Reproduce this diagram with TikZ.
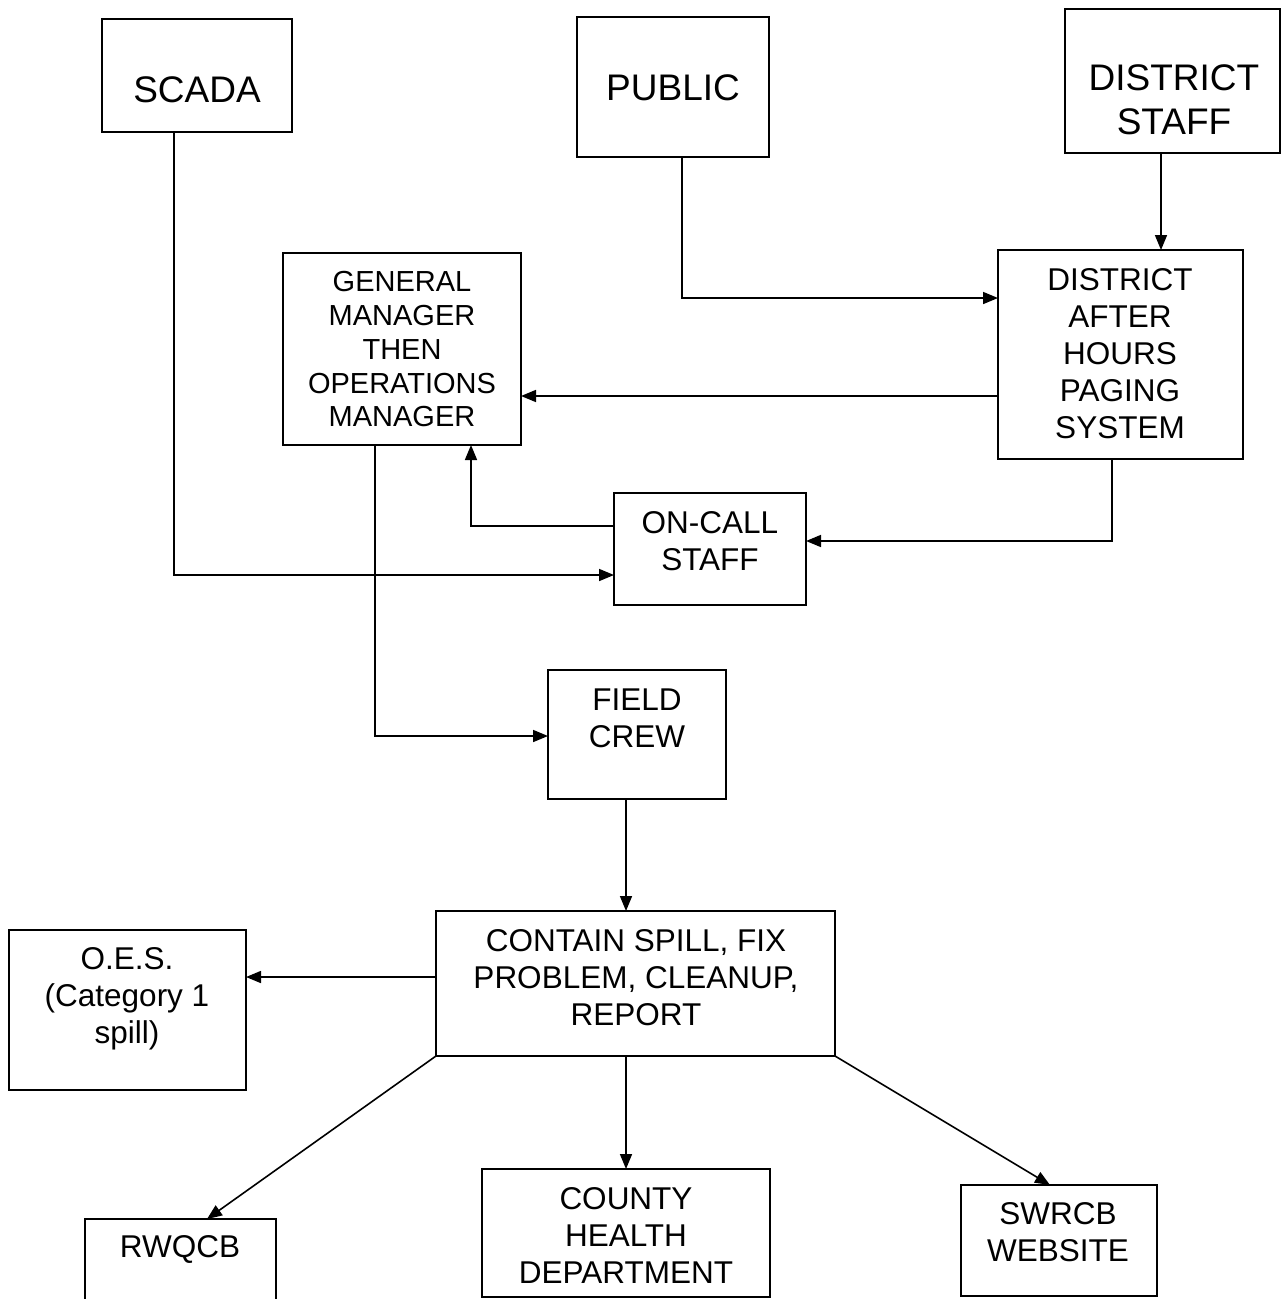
\documentclass[tikz,border=0pt]{standalone}
\usepackage{fontspec}
\setmainfont{Liberation Sans}
\usetikzlibrary{arrows.meta}
\tikzset{
  box/.style={draw, line width=1.8pt, rectangle, inner sep=0pt, outer sep=0pt},
  arr/.style={line width=1.6pt, -{Triangle[length=15pt,width=12pt]}},
  ln/.style={line width=1.6pt},
  txt/.style={align=center, inner sep=0pt, font=\fontsize{31.5}{37}\selectfont},
  txtbig/.style={align=center, inner sep=0pt, font=\fontsize{37}{44}\selectfont},
  txtgm/.style={align=center, inner sep=0pt, font=\fontsize{29}{33.75}\selectfont}
}
\begin{document}
\begin{tikzpicture}[x=1pt,y=-1pt]
\useasboundingbox[fill=white] (0,0) rectangle (1282,1299);
\clip (0,0) rectangle (1282,1299);
% boxes
\node[box, minimum width=190pt, minimum height=113pt] (scada) at (197,75.5) {};
\node[box, minimum width=192pt, minimum height=140pt] (public) at (673,87) {};
\node[box, minimum width=215pt, minimum height=144pt] (dstaff) at (1172.5,81) {};
\node[box, minimum width=238pt, minimum height=192pt] (gm) at (402,349) {};
\node[box, minimum width=245pt, minimum height=209pt] (paging) at (1120.5,354.5) {};
\node[box, minimum width=192pt, minimum height=112pt] (oncall) at (710,549) {};
\node[box, minimum width=178pt, minimum height=129pt] (field) at (637,734.5) {};
\node[box, minimum width=399pt, minimum height=145pt] (contain) at (635.5,983.5) {};
\node[box, minimum width=237pt, minimum height=160pt] (oes) at (127.5,1010) {};
\node[box, minimum width=191pt, minimum height=91pt] (rwqcb) at (180.5,1264.5) {};
\node[box, minimum width=288pt, minimum height=128pt] (county) at (626,1233) {};
\node[box, minimum width=196pt, minimum height=111pt] (swrcb) at (1059,1240.5) {};
% texts
\node[txtbig] (scadaT) at (197,90) {SCADA};
\node[txtbig] (publicT) at (673,88) {PUBLIC};
\node[txtbig] (dstaffT) at (1174,100) {DISTRICT\\STAFF};
\node[txtgm] (gmT) at (402,349.5) {GENERAL\\MANAGER\\THEN\\OPERATIONS\\MANAGER};
\node[txt] (pagingT) at (1120,353.5) {DISTRICT\\AFTER\\HOURS\\PAGING\\SYSTEM};
\node[txt] (oncallT) at (710,541.5) {ON-CALL\\STAFF};
\node[txt] (fieldT) at (637,718.5) {FIELD\\CREW};
\node[txt] (containT) at (636,978) {CONTAIN SPILL, FIX\\PROBLEM, CLEANUP,\\REPORT};
\node[txt] (oesT) at (127,999) {O.E.S.\\(Category 1\\spill)};
\node[txt] (rwqcbT) at (180,1249) {RWQCB};
\node[txt] (countyT) at (626,1235) {COUNTY\\HEALTH\\DEPARTMENT};
\node[txt] (swrcbT) at (1058,1232) {SWRCB\\WEBSITE};
% connectors
\draw[arr] ([xshift=-23pt]scada.south) |- ([yshift=-26pt]oncall.west);
\draw[arr] ([xshift=9pt]public.south) |- ([yshift=56.5pt]paging.west);
\draw[arr] ([xshift=-11.5pt]dstaff.south) coordinate (d1) -- (d1 |- paging.north);
\draw[arr] ([yshift=-41.5pt]paging.west) coordinate (p1) -- (gm.east |- p1);
\draw[arr] ([xshift=-8.5pt]paging.south) |- ([yshift=8pt]oncall.east);
\draw[arr] ([yshift=23pt]oncall.west) -| ([xshift=69pt]gm.south);
\draw[arr] ([xshift=-27pt]gm.south) |- ([yshift=-1.5pt]field.west);
\draw[arr] ([xshift=-11pt]field.south) coordinate (f1) -- (f1 |- contain.north);
\draw[arr] ([yshift=6.5pt]contain.west) coordinate (c1) -- (oes.east |- c1);
\draw[arr] (contain.south west) -- ([xshift=26.5pt]rwqcb.north);
\draw[arr] (county.north |- contain.south) -- (county.north);
\draw[arr] (contain.south east) -- ([xshift=-9pt]swrcb.north);
\end{tikzpicture}
\end{document}
